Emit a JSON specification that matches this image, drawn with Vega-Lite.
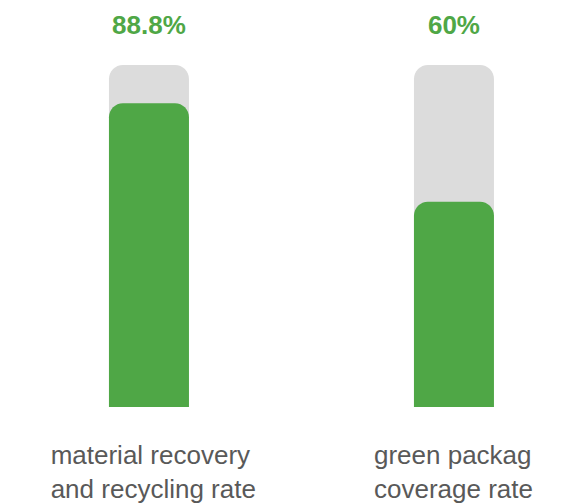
{
  "$schema": "https://vega.github.io/schema/vega-lite/v6.json",
  "width": 573,
  "height": 503,
  "autosize": {"type": "none"},
  "padding": {"left": 8, "top": 0, "right": 0, "bottom": 0},
  "background": "white",
  "config": {"view": {"stroke": null}},
  "data": {
    "values": [
      {"metric": "material recovery\nand recycling rate", "rate": 88.8, "full": 100, "label": "88.8%"},
      {"metric": "green packag\ncoverage rate", "rate": 60, "full": 100, "label": "60%"}
    ]
  },
  "encoding": {
    "x": {
      "field": "metric",
      "type": "nominal",
      "sort": null,
      "axis": null,
      "scale": {"paddingInner": 0.7377, "paddingOuter": 0.3082, "align": 0.537}
    }
  },
  "layer": [
    {
      "mark": {"type": "bar", "color": "#dcdcdc", "cornerRadiusTopLeft": 14, "cornerRadiusTopRight": 14},
      "encoding": {
        "y": {"field": "full", "type": "quantitative", "axis": null, "scale": {"domain": [-28.07, 119.0], "nice": false, "zero": false}},
        "y2": {"datum": 0}
      }
    },
    {
      "mark": {"type": "bar", "color": "#4fa746", "cornerRadiusTopLeft": 14, "cornerRadiusTopRight": 14},
      "encoding": {
        "y": {"field": "rate", "type": "quantitative"},
        "y2": {"datum": 0}
      }
    },
    {
      "mark": {"type": "rule", "color": "#dedede", "strokeWidth": 2},
      "encoding": {"y": {"datum": 0}}
    },
    {
      "mark": {"type": "text", "font": "Liberation Sans", "fontSize": 26, "fontWeight": "bold", "color": "#4fa746", "baseline": "alphabetic", "align": "center", "dy": -30.5},
      "encoding": {
        "y": {"field": "full", "type": "quantitative"},
        "text": {"field": "label"}
      }
    },
    {
      "transform": [{"filter": "datum.rate > 80"}],
      "mark": {"type": "text", "font": "Liberation Sans", "fontSize": 26, "color": "#595959", "baseline": "alphabetic", "align": "left", "dx": -98.3, "dy": 57.5, "lineBreak": "\n", "lineHeight": 34},
      "encoding": {
        "y": {"datum": 0},
        "text": {"field": "metric"}
      }
    },
    {
      "transform": [{"filter": "datum.rate <= 80"}],
      "mark": {"type": "text", "font": "Liberation Sans", "fontSize": 26, "color": "#595959", "baseline": "alphabetic", "align": "left", "dx": -80, "dy": 57.5, "lineBreak": "\n", "lineHeight": 34},
      "encoding": {
        "y": {"datum": 0},
        "text": {"field": "metric"}
      }
    }
  ]
}
